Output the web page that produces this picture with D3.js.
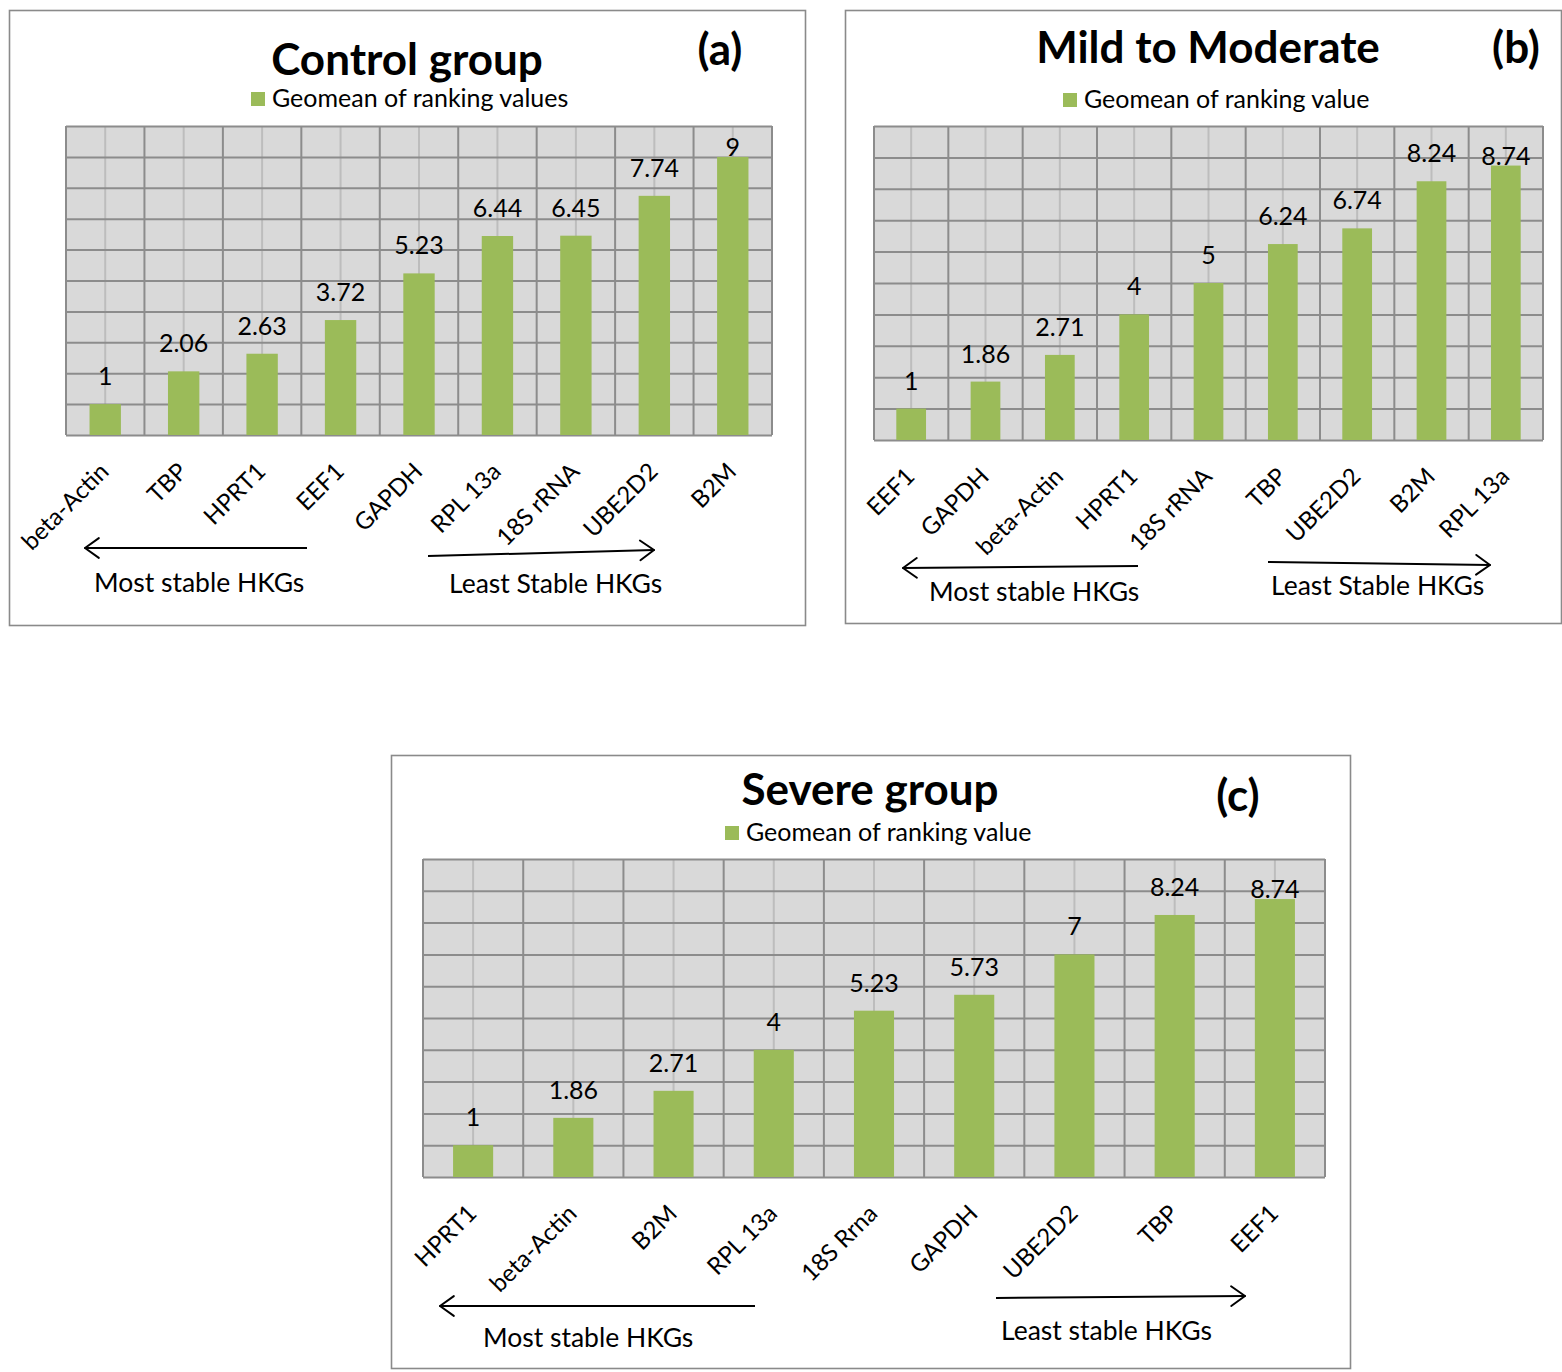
<!DOCTYPE html>
<html>
<head>
<meta charset="utf-8">
<script src="https://cdn.jsdelivr.net/npm/d3@7"></script>
<style>
  html, body { margin: 0; padding: 0; background: #ffffff; }
  svg { display: block; font-family: Lato, "Open Sans", sans-serif; }
</style>
</head>
<body>
<svg id="chart" width="1562" height="1372"></svg>
<script>
// ---- data ----
const controlGenes  = ["beta-Actin", "TBP", "HPRT1", "EEF1", "GAPDH", "RPL 13a", "18S rRNA", "UBE2D2", "B2M"];
const controlValues = [1, 2.06, 2.63, 3.72, 5.23, 6.44, 6.45, 7.74, 9];

const mildGenes  = ["EEF1", "GAPDH", "beta-Actin", "HPRT1", "18S rRNA", "TBP", "UBE2D2", "B2M", "RPL 13a"];
const mildValues = [1, 1.86, 2.71, 4, 5, 6.24, 6.74, 8.24, 8.74];

const severeGenes  = ["HPRT1", "beta-Actin", "B2M", "RPL 13a", "18S Rrna", "GAPDH", "UBE2D2", "TBP", "EEF1"];
const severeValues = [1, 1.86, 2.71, 4, 5.23, 5.73, 7, 8.24, 8.74];

const yDomain = [0, 10];
const yTicks = d3.range(0, 11);

const titles  = ["Control group", "Mild to Moderate", "Severe group"];
const tags    = ["(a)", "(b)", "(c)"];
const legends = ["Geomean of ranking values", "Geomean of ranking value", "Geomean of ranking value"];
const mostLabels  = ["Most stable HKGs", "Most stable HKGs", "Most stable HKGs"];
const leastLabels = ["Least Stable HKGs", "Least Stable HKGs", "Least stable HKGs"];

// ---- layout ----
const BAR = "#9bbb59", BG = "#d9d9d9", GRID = "#8c8c8c", GRID_LIGHT = "#bdbdbd", FRAME = "#8a8a8a";

const layouts = [
  { frame: [9.5, 10.5, 796, 615], plot: [66, 126, 772, 435],
    title: [407, 75], tag: [720, 65], legend: [251, 92, 272, 107],
    arrowL: [307, 548, 85, 548], arrowR: [428, 556, 654, 550],
    mostText: [94, 592], leastText: [449, 593] },
  { frame: [845.5, 10.5, 716, 613], plot: [874, 126, 1543, 440],
    title: [1208, 63], tag: [1516, 63], legend: [1063, 93, 1084, 108],
    arrowL: [1138, 566, 903, 568], arrowR: [1268, 562, 1490, 565],
    mostText: [929, 601], leastText: [1271, 595] },
  { frame: [391.5, 755.5, 959, 613], plot: [423, 859, 1325, 1177],
    title: [870, 805], tag: [1238, 811], legend: [725, 826, 746, 841],
    arrowL: [755, 1306, 440, 1306], arrowR: [996, 1298, 1245, 1296],
    mostText: [483, 1347], leastText: [1001, 1340] }
];

const datasets = [
  { genes: controlGenes, values: controlValues },
  { genes: mildGenes,    values: mildValues },
  { genes: severeGenes,  values: severeValues }
];

const svg = d3.select("#chart");

function arrow(g, [x1, y1, x2, y2]) {
  // line from (x1,y1) to tip (x2,y2) with an open head at the tip
  g.append("line").attr("x1", x1).attr("y1", y1).attr("x2", x2).attr("y2", y2)
    .attr("stroke", "#000").attr("stroke-width", 2);
  const ang = Math.atan2(y1 - y2, x1 - x2);
  const len = 17, spread = 0.62;
  [ang + spread, ang - spread].forEach(a => {
    g.append("line").attr("x1", x2).attr("y1", y2)
      .attr("x2", x2 + len * Math.cos(a)).attr("y2", y2 + len * Math.sin(a))
      .attr("stroke", "#000").attr("stroke-width", 2).attr("stroke-linecap", "round");
  });
}

datasets.forEach((d, i) => {
  const L = layouts[i];
  const g = svg.append("g");
  const [px0, py0, px1, py1] = L.plot;

  // outer frame
  g.append("rect").attr("x", L.frame[0]).attr("y", L.frame[1])
    .attr("width", L.frame[2]).attr("height", L.frame[3])
    .attr("fill", "#fff").attr("stroke", FRAME).attr("stroke-width", 1.6);

  const x = d3.scaleBand().domain(d.genes).range([px0, px1]).paddingInner(0).paddingOuter(0);
  const y = d3.scaleLinear().domain(yDomain).range([py1, py0]);

  // plot background
  g.append("rect").attr("x", px0).attr("y", py0).attr("width", px1 - px0).attr("height", py1 - py0)
    .attr("fill", BG);

  // light vertical lines at category centres
  g.append("g").selectAll("line").data(d.genes).join("line")
    .attr("x1", c => x(c) + x.bandwidth() / 2).attr("x2", c => x(c) + x.bandwidth() / 2)
    .attr("y1", py0).attr("y2", py1)
    .attr("stroke", GRID_LIGHT).attr("stroke-width", 2);

  // dark vertical lines at category boundaries
  const bounds = d.genes.map(c => x(c)).concat([px1]);
  g.append("g").selectAll("line").data(bounds).join("line")
    .attr("x1", v => v).attr("x2", v => v).attr("y1", py0).attr("y2", py1)
    .attr("stroke", GRID).attr("stroke-width", 2);

  // horizontal gridlines from the y scale ticks
  g.append("g").attr("transform", `translate(${px0},0)`)
    .call(d3.axisLeft(y).tickValues(yTicks).tickSize(-(px1 - px0)).tickFormat(""))
    .call(a => a.select(".domain").remove())
    .call(a => a.selectAll(".tick line").attr("stroke", GRID).attr("stroke-width", 2));

  // bars
  const bw = x.bandwidth() * 0.4;
  g.append("g").selectAll("rect").data(d.values).join("rect")
    .attr("x", (v, j) => x(d.genes[j]) + (x.bandwidth() - bw) / 2)
    .attr("y", v => y(v)).attr("width", bw).attr("height", v => y(0) - y(v))
    .attr("fill", BAR);

  // value labels (kept inside the plot area when there is no room above)
  g.append("g").selectAll("text").data(d.values).join("text")
    .attr("x", (v, j) => x(d.genes[j]) + x.bandwidth() / 2)
    .attr("y", v => (y(v) - 36 < py0 + 10) ? y(v) - 1 : y(v) - 19)
    .attr("text-anchor", "middle").attr("font-size", 25).attr("fill", "#000")
    .text(v => v);

  // category labels, rotated
  g.append("g").selectAll("text").data(d.genes).join("text")
    .attr("transform", c => `translate(${x(c) + x.bandwidth() / 2 + 5},${py1 + 38}) rotate(-45)`)
    .attr("text-anchor", "end").attr("font-size", 24).attr("fill", "#000")
    .text(c => c);

  // title, panel tag, legend
  g.append("text").attr("x", L.title[0]).attr("y", L.title[1]).attr("text-anchor", "middle")
    .attr("font-size", 44).attr("font-weight", "bold").text(titles[i]);
  g.append("text").attr("x", L.tag[0]).attr("y", L.tag[1]).attr("text-anchor", "middle")
    .attr("font-size", 44).attr("font-weight", "bold").text(tags[i]);
  g.append("rect").attr("x", L.legend[0]).attr("y", L.legend[1]).attr("width", 14).attr("height", 14)
    .attr("fill", BAR);
  g.append("text").attr("x", L.legend[2]).attr("y", L.legend[3]).attr("font-size", 25).text(legends[i]);

  // stability arrows
  arrow(g, L.arrowL);
  arrow(g, L.arrowR);
  g.append("text").attr("x", L.mostText[0]).attr("y", L.mostText[1]).attr("font-size", 26.5).text(mostLabels[i]);
  g.append("text").attr("x", L.leastText[0]).attr("y", L.leastText[1]).attr("font-size", 26.5).text(leastLabels[i]);
});
</script>
</body>
</html>
